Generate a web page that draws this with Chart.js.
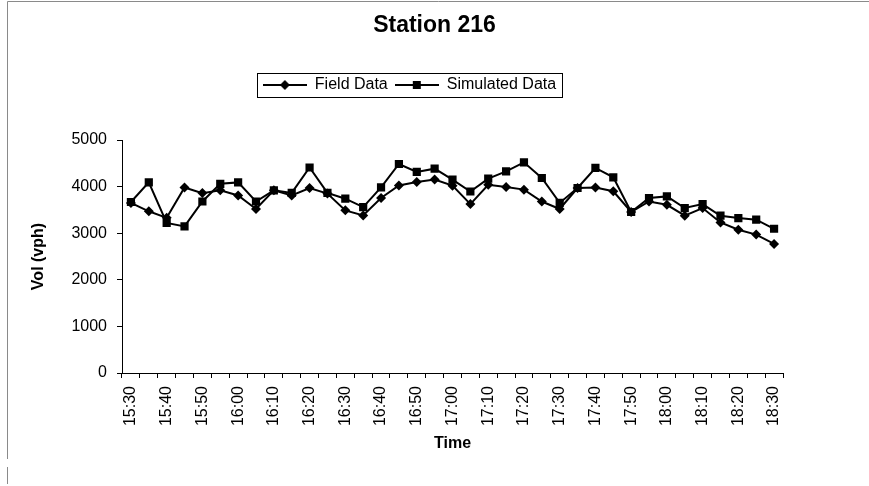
<!DOCTYPE html>
<html>
<head>
<meta charset="utf-8">
<script src="https://cdn.jsdelivr.net/npm/chart.js@4.4.0/dist/chart.umd.min.js"></script>
<style>
html,body{margin:0;padding:0;background:#fff;}
#wrap{width:869px;height:486px;position:relative;}
</style>
</head>
<body>
<div id="wrap"><canvas id="c" width="869" height="486"></canvas></div>
<script>
const chartTitle = 'Station 216';
const xAxisTitle = 'Time';
const yAxisTitle = 'Vol (vph)';
const seriesNames = ['Field Data', 'Simulated Data'];
const timeLabels = ['15:30','15:35','15:40','15:45','15:50','15:55','16:00','16:05','16:10','16:15',
  '16:20','16:25','16:30','16:35','16:40','16:45','16:50','16:55','17:00','17:05',
  '17:10','17:15','17:20','17:25','17:30','17:35','17:40','17:45','17:50','17:55',
  '18:00','18:05','18:10','18:15','18:20','18:25','18:30'];
const fieldData = [3650,3470,3330,3980,3860,3920,3810,3520,3920,3810,
  3970,3850,3490,3380,3755,4025,4100,4150,4020,3625,
  4040,3990,3935,3680,3520,3970,3980,3900,3455,3680,
  3610,3375,3540,3230,3075,2970,2770];
const simulatedData = [3670,4090,3220,3145,3680,4060,4090,3680,3920,3865,
  4410,3865,3740,3560,3985,4485,4315,4385,4150,3895,
  4170,4325,4520,4185,3650,3970,4400,4200,3455,3755,
  3790,3540,3625,3375,3325,3290,3095];
const yMin = 0, yMax = 5000, yStep = 1000;

const FONT = "'Liberation Sans', Arial, sans-serif";
const SAMPLE_W = 44;

function legendSymbol(shape) {
  const c = document.createElement('canvas');
  c.width = SAMPLE_W; c.height = 12;
  const g = c.getContext('2d');
  const m = SAMPLE_W / 2;
  g.strokeStyle = '#000'; g.lineWidth = 2;
  g.beginPath(); g.moveTo(0, 6); g.lineTo(SAMPLE_W, 6); g.stroke();
  g.fillStyle = '#000';
  g.beginPath();
  if (shape === 'diamond') {
    g.moveTo(m, 1); g.lineTo(m + 5, 6); g.lineTo(m, 11); g.lineTo(m - 5, 6); g.closePath();
  } else {
    g.rect(m - 4, 2, 8, 8);
  }
  g.fill();
  return c;
}
const legendSymbols = [legendSymbol('diamond'), legendSymbol('square')];

const framePlugin = {
  id: 'frame',
  afterInit(chart) {
    const lg = chart.legend;
    const origFit = lg.fit.bind(lg);
    lg.fit = function () {
      origFit();
      this.height = 70;
    };
  },
  afterLayout(chart) {
    if (chart.titleBlock) { chart.titleBlock.left = 0; chart.titleBlock.right = 869; chart.titleBlock.width = 869; }
    if (chart.legend) { chart.legend.left = 0; chart.legend.right = 819; chart.legend.width = 819; }
  },
  beforeDraw(chart) {
    const ctx = chart.ctx;
    ctx.save();
    ctx.fillStyle = '#fff';
    ctx.fillRect(0, 0, chart.width, chart.height);
    ctx.strokeStyle = '#8a8a8a';
    ctx.lineWidth = 1;
    ctx.beginPath();
    ctx.moveTo(7.5, 459); ctx.lineTo(7.5, 1.5); ctx.lineTo(869, 1.5);
    ctx.moveTo(7.5, 467); ctx.lineTo(7.5, 484);
    ctx.stroke();
    ctx.restore();
  },
  afterDraw(chart) {
    const boxes = chart.legend && chart.legend.legendHitBoxes;
    if (!boxes || !boxes.length) return;
    let l = Infinity, r = -Infinity, t = Infinity, b = -Infinity;
    boxes.forEach(h => {
      l = Math.min(l, h.left); r = Math.max(r, h.left + h.width);
      t = Math.min(t, h.top); b = Math.max(b, h.top + h.height);
    });
    const ctx = chart.ctx;
    ctx.save();
    ctx.strokeStyle = '#000';
    ctx.lineWidth = 1;
    ctx.strokeRect(Math.round(l - 6) + 0.5, Math.round(t - 4) + 0.5, Math.round(r - l + 12), Math.round(b - t + 8));
    ctx.restore();
  }
};

new Chart(document.getElementById('c'), {
  type: 'line',
  data: {
    labels: timeLabels,
    datasets: [
      {
        label: seriesNames[0],
        data: fieldData,
        borderColor: '#000',
        backgroundColor: '#000',
        borderWidth: 2,
        pointStyle: 'rectRot',
        pointRadius: 5,
        pointBorderWidth: 0,
        tension: 0,
        fill: false
      },
      {
        label: seriesNames[1],
        data: simulatedData,
        borderColor: '#000',
        backgroundColor: '#000',
        borderWidth: 2,
        pointStyle: 'rect',
        pointRadius: 5.8,
        pointBorderWidth: 0,
        tension: 0,
        fill: false
      }
    ]
  },
  options: {
    responsive: false,
    animation: false,
    events: [],
    layout: { padding: { left: 0, right: 86, top: 0, bottom: 29 } },
    plugins: {
      tooltip: { enabled: false },
      title: {
        display: true,
        text: chartTitle,
        color: '#000',
        font: { family: FONT, size: 23, weight: 'bold' },
        padding: { top: 12, bottom: 30.4 }
      },
      legend: {
        display: true,
        position: 'top',
        labels: {
          color: '#000',
          font: { family: FONT, size: 16 },
          usePointStyle: true,
          pointStyleWidth: SAMPLE_W,
          padding: 7,
          generateLabels(chart) {
            return chart.data.datasets.map((ds, i) => ({
              text: ds.label,
              pointStyle: legendSymbols[i],
              fillStyle: '#000',
              strokeStyle: '#000',
              lineWidth: 0,
              hidden: false,
              datasetIndex: i,
              fontColor: '#000'
            }));
          }
        }
      }
    },
    scales: {
      x: {
        type: 'category',
        offset: true,
        afterFit(scale) { scale.height = 84; },
        grid: { display: true, offset: true, drawOnChartArea: false, drawTicks: true, tickLength: 5, color: '#000', lineWidth: 1 },
        border: { display: true, color: '#000', width: 1 },
        ticks: {
          autoSkip: false,
          maxRotation: 90,
          minRotation: 90,
          padding: 8,
          color: '#000',
          font: { family: FONT, size: 16 },
          callback(value, index) { return index % 2 === 0 ? timeLabels[index] : ''; }
        },
        title: {
          display: true,
          text: xAxisTitle,
          color: '#000',
          font: { family: FONT, size: 16, weight: 'bold' },
          padding: { top: 4, bottom: 4 }
        }
      },
      y: {
        min: yMin,
        max: yMax,
        afterFit(scale) { scale.width = 122; },
        grid: { display: true, drawOnChartArea: false, drawTicks: true, tickLength: 5, color: '#000', lineWidth: 1 },
        border: { display: true, color: '#000', width: 1 },
        ticks: {
          stepSize: yStep,
          padding: 10,
          color: '#000',
          font: { family: FONT, size: 16 },
          callback(value) { return String(value); }
        },
        title: {
          display: true,
          text: yAxisTitle,
          color: '#000',
          font: { family: FONT, size: 16, weight: 'bold' },
          padding: { top: 29, bottom: 4 }
        }
      }
    }
  },
  plugins: [framePlugin]
});
</script>
</body>
</html>
